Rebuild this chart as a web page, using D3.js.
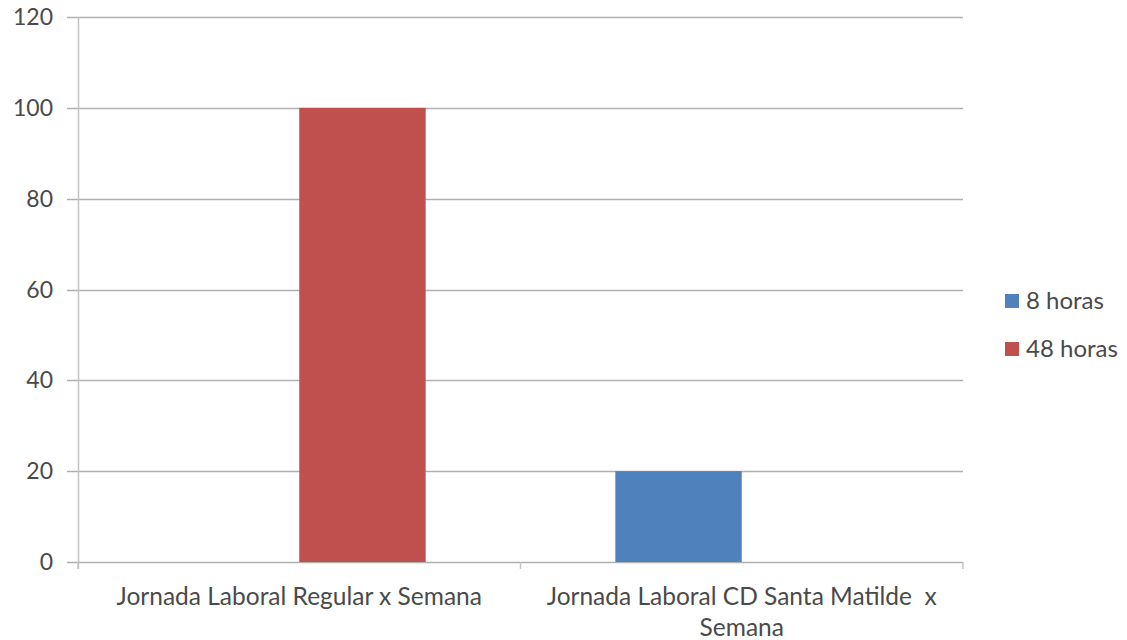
<!DOCTYPE html>
<html>
<head>
<meta charset="utf-8">
<script src="https://cdn.jsdelivr.net/npm/d3@7"></script>
<style>
  body { margin: 0; background: #fff; }
  text { font-family: Lato, "Open Sans", sans-serif; fill: #4a4a4a; }
</style>
</head>
<body>
<div id="chart" style="width:1127px;height:640px"></div>
<script>
// data
const categories = [
  ["Jornada Laboral Regular x Semana"],
  ["Jornada Laboral CD Santa Matilde  x", "Semana"],
];
const seriesNames = ["8 horas", "48 horas"];
const values8 = [0, 20];
const values48 = [100, 0];
const yTicks = [0, 20, 40, 60, 80, 100, 120];
const colors = ["#4F81BD", "#C0504D"];

// metrics
const width = 1127;
const height = 640;
const marginLeft = 78;
const marginRight = 164;
const marginTop = 17;
const marginBottom = 78;
const chartWidth = width - marginLeft - marginRight;
const chartHeight = height - marginTop - marginBottom;

const svg = d3.select("#chart")
  .append("svg")
  .attr("width", width)
  .attr("height", height);

const g = svg.append("g").attr("transform", `translate(${marginLeft},${marginTop})`);

// scales
const xScale = d3.scaleBand()
  .domain(d3.range(categories.length))
  .range([0, chartWidth]);

const inner = d3.scaleBand()
  .domain(seriesNames)
  .range([0, xScale.bandwidth()])
  .paddingInner(0)
  .paddingOuter(0.75);

const yScale = d3.scaleLinear()
  .domain([0, 120])
  .range([chartHeight, 0]);

// gridlines
g.append("g")
  .selectAll("line")
  .data(yTicks)
  .join("line")
  .attr("x1", -11)
  .attr("x2", chartWidth)
  .attr("y1", (d) => Math.round(yScale(d)) + 0.5)
  .attr("y2", (d) => Math.round(yScale(d)) + 0.5)
  .attr("stroke", "#b0b0b0")
  .attr("stroke-width", 1.5);

// y labels
g.append("g")
  .selectAll("text")
  .data(yTicks)
  .join("text")
  .attr("x", -25)
  .attr("y", (d) => yScale(d))
  .attr("dy", "0.35em")
  .attr("text-anchor", "end")
  .style("font-size", "23px")
  .text((d) => d);

// y axis line
g.append("line")
  .attr("x1", 0.5).attr("x2", 0.5)
  .attr("y1", 0).attr("y2", chartHeight + 7)
  .attr("stroke", "#c4c4c4")
  .attr("stroke-width", 1.5);

// category ticks
g.append("g")
  .selectAll("line")
  .data(d3.range(categories.length + 1))
  .join("line")
  .attr("x1", (d) => d * xScale.bandwidth())
  .attr("x2", (d) => d * xScale.bandwidth())
  .attr("y1", chartHeight)
  .attr("y2", chartHeight + 7)
  .attr("stroke", "#c4c4c4")
  .attr("stroke-width", 1.5);

// bars
const series = [values8, values48];
series.forEach((vals, si) => {
  g.append("g")
    .selectAll("rect")
    .data(vals)
    .join("rect")
    .attr("x", (d, i) => xScale(i) + inner(seriesNames[si]))
    .attr("y", (d) => yScale(d))
    .attr("width", inner.bandwidth())
    .attr("height", (d) => chartHeight - yScale(d))
    .attr("fill", colors[si]);
});

// category labels
const labels = g.append("g")
  .selectAll("text")
  .data(categories)
  .join("text")
  .attr("text-anchor", "middle")
  .attr("x", (d, i) => xScale(i) + xScale.bandwidth() / 2)
  .attr("y", chartHeight + 43)
  .style("font-size", "24.5px")
  .style("white-space", "pre");

labels.selectAll("tspan")
  .data((d) => d)
  .join("tspan")
  .attr("x", function () { return this.parentNode.getAttribute("x"); })
  .attr("dy", (d, i) => (i === 0 ? 0 : 31))
  .text((d) => d);

// legend
const legend = svg.append("g")
  .attr("transform", "translate(1005,294)");

const item = legend.selectAll("g")
  .data(seriesNames)
  .join("g")
  .attr("transform", (d, i) => `translate(0,${i * 48})`);

item.append("rect")
  .attr("width", 14)
  .attr("height", 14)
  .attr("fill", (d, i) => colors[i]);

item.append("text")
  .attr("x", 21)
  .attr("y", 7)
  .attr("dy", "0.35em")
  .style("font-size", "24px")
  .text((d) => d);
</script>
</body>
</html>
